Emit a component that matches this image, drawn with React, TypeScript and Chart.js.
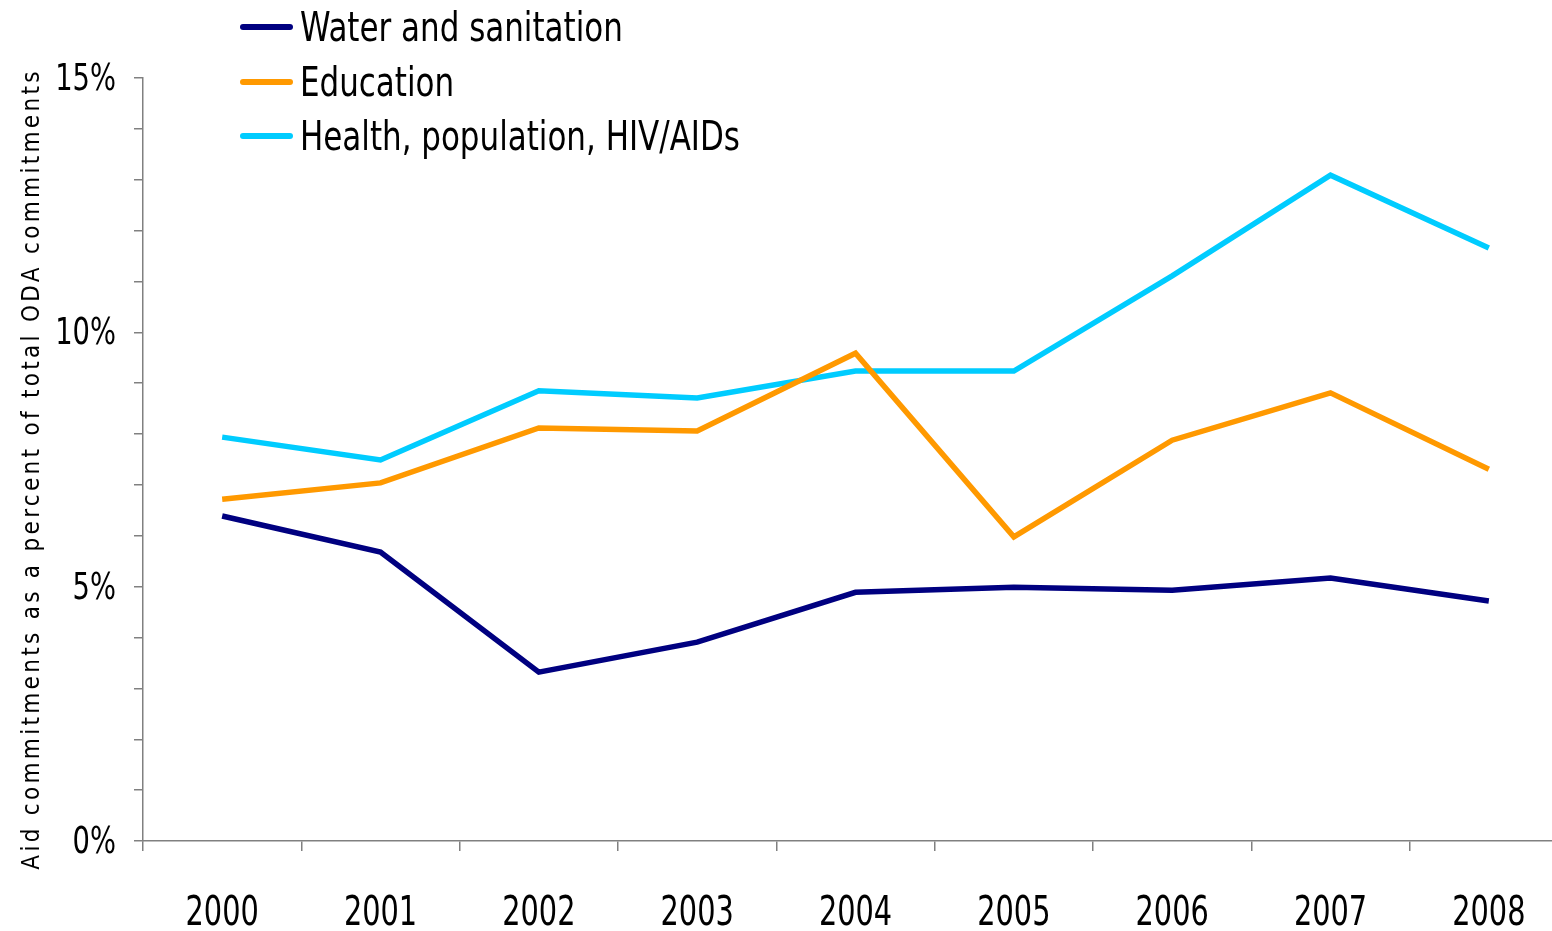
import React, { useEffect, useRef } from "react";
import { Chart, registerables } from "chart.js";

Chart.register(...registerables);

const years = ["2000", "2001", "2002", "2003", "2004", "2005", "2006", "2007", "2008"];
const water = [6.39, 5.68, 3.32, 3.91, 4.89, 4.99, 4.93, 5.17, 4.72];
const education = [6.72, 7.04, 8.12, 8.06, 9.59, 5.98, 7.88, 8.81, 7.31];
const health = [7.94, 7.49, 8.85, 8.71, 9.24, 9.24, 11.11, 13.09, 11.66];
const yTickLabels = [0, 5, 10, 15];
const seriesNames = ["Water and sanitation", "Education", "Health, population, HIV/AIDs"];
const seriesColors = ["#000080", "#FF9900", "#00CCFF"];
const yTitle = "Aid commitments as a percent of total ODA commitments";

const FONT = "'DejaVu Sans Condensed', 'Liberation Sans', sans-serif";

function narrowText(ctx: any, text: string, x: number, y: number, size: number, sx: number, align: string) {
  ctx.save();
  ctx.font = `${size}px ${FONT}`;
  ctx.textAlign = align;
  ctx.textBaseline = "middle";
  ctx.translate(x, y);
  ctx.scale(sx, 1);
  ctx.fillText(text, 0, 0);
  ctx.restore();
}

const overlay = {
  id: "overlay",
  afterDraw(chart: any) {
    const ctx = chart.ctx;
    ctx.save();
    ctx.fillStyle = "#000";
    // legend
    const ys = [27, 82, 136];
    seriesNames.forEach((n, i) => {
      ctx.strokeStyle = seriesColors[i];
      ctx.lineWidth = 6;
      ctx.lineCap = "round";
      ctx.beginPath();
      ctx.moveTo(243, ys[i]);
      ctx.lineTo(290, ys[i]);
      ctx.stroke();
      narrowText(ctx, n, 300, ys[i] + 4, 40, 0.86, "left");
    });
    // x labels
    const xs = chart.scales.x;
    years.forEach((y, i) => {
      narrowText(ctx, y, xs.getPixelForValue(i), 915, 40, 0.8, "center");
    });
    // y labels
    const ysc = chart.scales.y;
    yTickLabels.forEach((v) => {
      narrowText(ctx, v + "%", 116, ysc.getPixelForValue(v) + 2, 38, 0.8, "right");
    });
    // y title
    ctx.translate(33, 469);
    ctx.rotate(-Math.PI / 2);
    ctx.textAlign = "center";
    ctx.textBaseline = "middle";
    ctx.font = `24px ${FONT}`;
    (ctx as any).letterSpacing = "3.3px";
    ctx.fillText(yTitle, 0, 0);
    ctx.restore();
  },
};

export default function App() {
  const ref = useRef<HTMLCanvasElement>(null);
  useEffect(() => {
    document.body.style.margin = "0";
    document.body.style.overflow = "hidden";
    const chart = new Chart(ref.current!, {
      type: "line",
      data: {
        labels: years,
        datasets: [water, education, health].map((d, i) => ({
          label: seriesNames[i],
          data: d,
          borderColor: seriesColors[i],
          backgroundColor: seriesColors[i],
          borderWidth: 5.5,
          pointRadius: 0,
          tension: 0,
          fill: false,
        })),
      },
      options: {
        responsive: false,
        animation: false,
        layout: { padding: { top: 78, left: 0, right: 0, bottom: 0 } },
        plugins: { legend: { display: false }, tooltip: { enabled: false } },
        scales: {
          x: {
            offset: true,
            grid: { offset: true, drawOnChartArea: false, drawTicks: true, tickLength: 10, color: "#808080", lineWidth: 1.5 },
            border: { color: "#808080", width: 1.5 },
            ticks: { callback: () => "", maxRotation: 0 },
            afterFit: (s: any) => { s.height = 90; },
          },
          y: {
            min: 0,
            max: 15,
            grid: { drawOnChartArea: false, drawTicks: true, tickLength: 9, color: "#808080", lineWidth: 1.5 },
            border: { color: "#808080", width: 1.5 },
            ticks: { stepSize: 1, autoSkip: false, callback: () => "" },
            afterFit: (s: any) => { s.width = 143; },
          },
        },
      },
      plugins: [overlay],
    });
    return () => chart.destroy();
  }, []);
  return (
    <div style={{ width: 1552, height: 931, overflow: "hidden" }}>
      <canvas ref={ref} width={1568} height={931} style={{ display: "block" }} />
    </div>
  );
}
